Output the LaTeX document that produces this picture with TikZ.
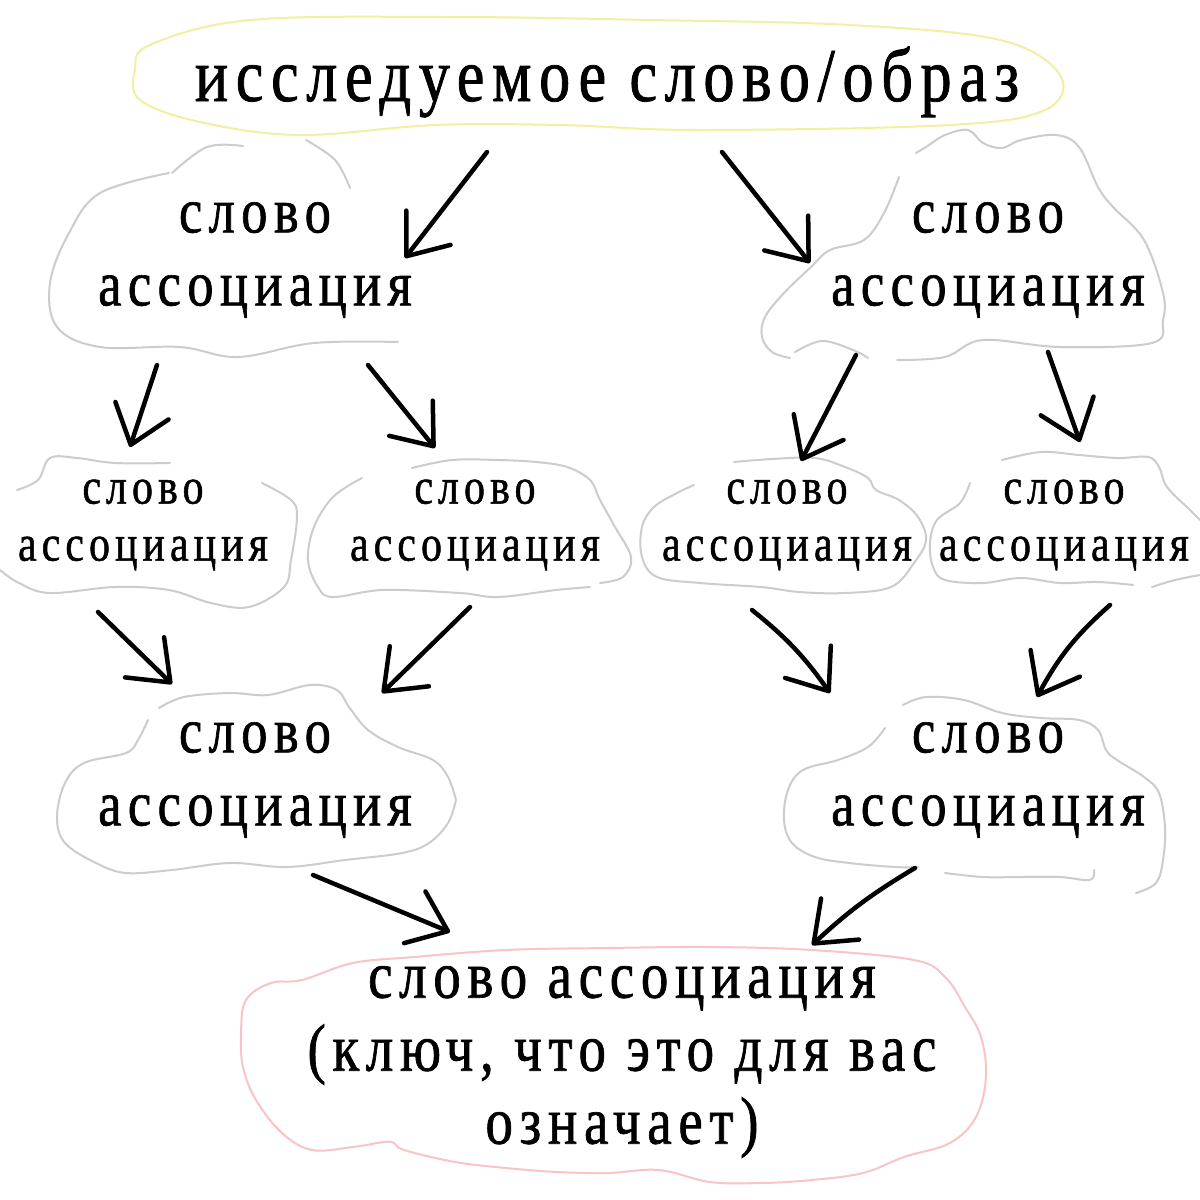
\documentclass[tikz,border=0pt]{standalone}
\usepackage{fontspec}
\usetikzlibrary{arrows.meta}
\newfontfamily\df[FakeStretch=0.82,LetterSpace=10,FakeBold=1]{Liberation Serif}
\definecolor{cgray}{HTML}{CCCCCC}
\definecolor{cyel}{HTML}{F0F0A0}
\definecolor{cpink}{HTML}{F8C4C4}
\begin{document}
\begin{tikzpicture}[x=1pt,y=-1pt,
  cl/.style={draw=cgray,line width=2pt,line cap=round,line join=round},
  arr/.style={line width=4.5pt,line cap=round,-{Straight Barb[length=36pt,width=56pt,round]}},
  big/.style={font=\df\fontsize{76}{80}\selectfont},
  mid/.style={align=center,font=\df\fontsize{64}{73}\selectfont},
  sml/.style={align=center,font=\df\fontsize{51}{57}\selectfont},
  btm/.style={align=center,font=\df\fontsize{67}{73}\selectfont}]
\fill[white] (0,0) rectangle (1200,1200);
\useasboundingbox (0,0) rectangle (1200,1200);

% clouds
\draw[cl,draw=cyel] plot[smooth cycle,tension=0.6] coordinates {(150,45) (250,20) (450,17) (650,20) (850,25) (1000,40) (1060,75) (1045,110) (950,125) (700,130) (560,125) (435,125) (300,135) (200,122) (140,100) (135,70)};
% level 1 left
\draw[cl] plot[smooth,tension=0.6] coordinates {(172,173) (207,147) (243,146)};
\draw[cl] plot[smooth,tension=0.6] coordinates {(306,140) (335,160) (350,188)};
\draw[cl] plot[smooth,tension=0.6] coordinates {(169,173) (100,193) (69,233) (50,283) (57,327) (100,347) (180,347) (238,357) (314,343) (398,342)};
% level 1 right
\draw[cl] plot[smooth,tension=0.6] coordinates {(899,177) (884,213) (864,240) (830,250) (811,267) (784,293) (765,317) (762,337) (772,352) (790,358)};
\draw[cl] plot[smooth,tension=0.6] coordinates {(795,352) (822,341) (853,350) (868,358)};
\draw[cl] plot[smooth,tension=0.6] coordinates {(897,360) (945,357) (983,340) (1060,347) (1152,343) (1163,320) (1163,293) (1144,240) (1113,207) (1098,187) (1079,147) (1056,135) (1021,140) (1002,148) (983,143) (968,130) (945,135) (926,147) (916,153)};
% level 2 A
\draw[cl] plot[smooth,tension=0.6] coordinates {(17,490) (38,480) (50,458) (77,458) (115,463) (170,463)};
\draw[cl] plot[smooth,tension=0.6] coordinates {(262,483) (291,500) (297,517) (291,560) (284,587) (249,607) (211,603) (169,590) (115,587) (50,593) (19,583) (0,570)};
% level 2 B
\draw[cl] plot[smooth,tension=0.6] coordinates {(362,478) (333,497) (314,527) (308,560) (318,587) (333,597) (383,590) (460,593) (498,597) (556,590) (590,587)};
\draw[cl] plot[smooth,tension=0.6] coordinates {(412,468) (452,460) (498,460) (536,462) (567,467) (590,480) (600,500) (615,527) (631,557) (623,577) (600,583)};
% level 2 C
\draw[cl] plot[smooth,tension=0.6] coordinates {(734,462) (772,459) (815,458) (845,467) (868,478) (876,490) (899,500) (918,517) (926,540) (914,563) (891,587) (845,593) (799,592) (761,587) (700,583) (657,577) (642,557) (642,527) (654,507) (677,493) (694,485)};
% level 2 D
\draw[cl] plot[smooth,tension=0.6] coordinates {(1002,460) (1041,452) (1079,455) (1117,458) (1148,457) (1159,467) (1167,487) (1190,510) (1200,520)};
\draw[cl] plot[smooth,tension=0.6] coordinates {(970,483) (960,503) (937,520) (930,543) (933,567) (945,580) (983,583) (1021,578) (1060,583) (1098,582) (1133,585)};
\draw[cl] plot[smooth,tension=0.6] coordinates {(1152,587) (1175,580) (1200,575)};
% level 3 left
\draw[cl] plot[smooth,tension=0.6] coordinates {(159,708) (184,697) (230,693) (268,695) (310,685) (337,690) (349,707) (368,730) (398,747) (433,760) (448,777) (456,800)};
\draw[cl] plot[smooth,tension=0.6] coordinates {(148,720) (138,740) (126,753) (84,763) (65,783) (57,817) (65,843) (96,863) (126,873) (172,870) (230,863) (287,867) (345,860) (402,853) (429,843) (448,823) (456,800)};
% level 3 right
\draw[cl] plot[smooth,tension=0.6] coordinates {(903,705) (926,697) (964,700) (1002,713) (1041,718) (1079,720) (1098,730) (1106,750) (1117,760) (1144,777) (1159,793) (1165,827) (1163,860) (1156,883) (1136,893)};
\draw[cl] plot[smooth,tension=0.6] coordinates {(885,728) (868,747) (838,760) (803,770) (788,790) (784,820) (792,843) (815,857) (849,863) (895,867) (918,867)};
\draw[cl] plot[smooth,tension=0.6] coordinates {(945,873) (983,877) (1021,877) (1060,877) (1090,880) (1094,870)};
% bottom pink
\draw[cl,draw=cpink] plot[smooth cycle,tension=0.6] coordinates {(353,963) (414,957) (506,950) (608,948) (710,947) (812,950) (914,960) (945,977) (965,1007) (981,1037) (986,1077) (976,1117) (950,1143) (904,1157) (863,1173) (812,1180) (761,1183) (710,1182) (659,1170) (608,1173) (557,1172) (506,1168) (455,1162) (404,1150) (394,1143) (384,1142) (353,1147) (312,1150) (282,1133) (256,1100) (243,1067) (241,1033) (246,1000) (271,983) (302,980)};

% nodes
\node[big] (top) at (607,82) {исследуемое слово/образ};
\node[mid] (l1a) at (255,260) {слово\\ассоциация};
\node[mid] (l1b) at (988,260) {слово\\ассоциация};
\node[sml] (l2a) at (143,525) {слово\\ассоциация};
\node[sml] (l2b) at (475,525) {слово\\ассоциация};
\node[sml] (l2c) at (787,525) {слово\\ассоциация};
\node[sml] (l2d) at (1064,525) {слово\\ассоциация};
\node[mid] (l3a) at (255,780) {слово\\ассоциация};
\node[mid] (l3b) at (988,780) {слово\\ассоциация};
\node[btm] (bot) at (622,1062) {слово ассоциация\\(ключ, что это для вас\\означает)};

% arrow ends
\coordinate (a1s) at (487,152); \coordinate (a1e) at (405,258);
\coordinate (a2s) at (722,152); \coordinate (a2e) at (810,263);
\coordinate (a3s) at (157,365); \coordinate (a3e) at (130,447);
\coordinate (a4s) at (368,365); \coordinate (a4e) at (435,448);
\coordinate (a5s) at (856,355); \coordinate (a5e) at (801,461);
\coordinate (a6s) at (1048,352); \coordinate (a6e) at (1080,442);
\coordinate (a7s) at (98,612); \coordinate (a7e) at (172,684);
\coordinate (a8s) at (470,607); \coordinate (a8e) at (382,693);
\coordinate (a9s) at (752,610); \coordinate (a9e) at (830,693);
\coordinate (a10s) at (1110,605); \coordinate (a10e) at (1037,697);
\coordinate (a11s) at (313,875); \coordinate (a11e) at (450,932);
\coordinate (a12s) at (915,868); \coordinate (a12e) at (812,945);

\draw[arr] (a1s) -- (a1e);
\draw[arr] (a2s) -- (a2e);
\draw[arr] (a3s) -- (a3e);
\draw[arr] (a4s) -- (a4e);
\draw[arr] (a5s) -- (a5e);
\draw[arr] (a6s) -- (a6e);
\draw[arr] (a7s) -- (a7e);
\draw[arr] (a8s) -- (a8e);
\draw[arr] (a9s) to[bend left=8] (a9e);
\draw[arr] (a10s) to[bend right=10] (a10e);
\draw[arr] (a11s) -- (a11e);
\draw[arr] (a12s) to[bend right=6] (a12e);
\end{tikzpicture}
\end{document}
